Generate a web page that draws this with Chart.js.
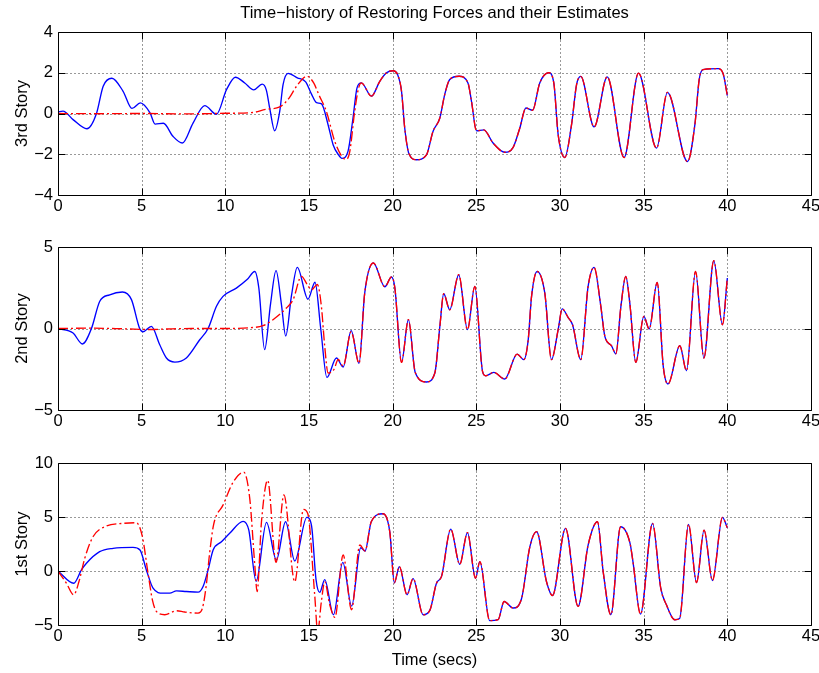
<!DOCTYPE html>
<html>
<head>
<meta charset="utf-8">
<script src="https://cdn.jsdelivr.net/npm/chart.js@4.4.1/dist/chart.umd.min.js"></script>
<style>
html,body{margin:0;padding:0;background:#fff;}
#wrap{position:relative;width:819px;height:673px;overflow:hidden;background:#fff;}
#wrap canvas{position:absolute;left:0;top:0;}
</style>
</head>
<body>
<div id="wrap">
<canvas id="c1" width="819" height="673"></canvas>
<canvas id="c2" width="819" height="673"></canvas>
<canvas id="c3" width="819" height="673"></canvas>
</div>
<script>
// ---------- tick labels ----------
const xTicks = [0, 5, 10, 15, 20, 25, 30, 35, 40, 45];
const yTicks3rd = [-4, -2, 0, 2, 4];
const yTicks2nd = [-5, 0, 5];
const yTicks1st = [-5, 0, 5, 10];

// ---------- 3rd story: actual restoring force ----------
const t3rd = [0, 0.3, 0.9, 1.73, 2.3, 2.7, 3.22, 3.89, 4.42, 4.92, 5.5, 5.8, 6.3, 6.87, 7.43, 8.07, 8.77, 9.47, 10.07, 10.6, 11.16, 11.7, 12.2, 12.45, 12.65, 12.95, 13.25, 13.45, 13.75, 14.3, 14.8, 15.15, 15.45, 15.75, 16.14, 16.44, 16.74, 16.97, 17.33, 17.63, 17.87, 18.13, 18.73, 19.23, 19.63, 20.03, 20.3, 20.53, 20.72, 20.98, 21.42, 22.02, 22.41, 22.82, 23.11, 23.41, 23.97, 24.5, 24.71, 25.01, 25.45, 26.0, 26.7, 27.2, 27.6, 27.96, 28.36, 28.79, 29.33, 29.63, 29.89, 30.29, 30.69, 30.99, 31.24, 32.04, 32.82, 33.83, 34.69, 35.77, 36.42, 37.62, 38.06, 38.32, 38.55, 39.45, 39.75, 40.0];
const f3rd = [0.08, 0.12, -0.3, -0.75, 0, 1.34, 1.73, 1.09, 0.25, 0.52, 0.03, -0.52, -0.48, -1.12, -1.45, -0.47, 0.39, -0.04, 1.17, 1.78, 1.5, 1.16, 1.44, 1.15, 0.27, -0.85, 0.1, 1.42, 1.97, 1.75, 1.55, 0.95, 0.53, 0.47, -0.55, -1.53, -2.0, -2.2, -1.86, -0.22, 1.26, 1.5, 0.85, 1.58, 2.0, 2.1, 1.9, 1.09, -0.71, -1.99, -2.27, -2.03, -0.88, -0.22, 0.93, 1.67, 1.83, 1.5, 0.6, -0.85, -0.8, -1.45, -1.9, -1.66, -0.71, 0.27, 0.16, 1.5, 2.0, 1.5, -1.04, -2.16, -0.55, 1.42, 1.82, -0.66, 1.8, -2.16, 1.98, -1.7, 1.04, -2.36, -0.55, 1.67, 2.15, 2.2, 1.95, 0.88];
// 3rd story: estimate before it locks on to the actual force
const tEst3rd = [0, 2.5, 5, 7.5, 10, 11.66, 12.4, 13.25, 13.82, 14.25, 14.88, 15.28, 15.6, 16.04, 16.54, 17.04, 17.23, 17.43, 17.73, 17.95];
const fEst3rd = [0, -0.01, 0, -0.02, 0.01, 0.05, 0.2, 0.32, 0.77, 1.33, 1.83, 1.5, 0.9, 0.1, -1.37, -2.19, -2.25, -1.9, 0.1, 1.2];
const lock3rd = 18.0;

// ---------- 2nd story ----------
const t2nd = [0, 0.9, 1.46, 2.0, 2.49, 3.09, 3.85, 4.39, 4.88, 5.08, 5.58, 6.08, 6.48, 6.98, 7.67, 8.47, 8.97, 9.47, 9.86, 10.66, 11.3, 11.76, 12.0, 12.35, 12.7, 13.03, 13.35, 13.61, 13.95, 14.3, 14.94, 15.36, 15.7, 16.07, 16.64, 17.04, 17.52, 17.99, 18.33, 18.85, 19.53, 19.93, 20.13, 20.53, 20.94, 21.35, 22.02, 22.52, 22.82, 23.05, 23.41, 23.95, 24.47, 24.91, 25.37, 25.56, 26.04, 26.7, 27.44, 27.84, 28.1, 28.3, 28.63, 29.09, 29.49, 29.89, 30.13, 30.49, 30.75, 31.24, 31.68, 32.04, 32.44, 32.68, 33.08, 33.34, 33.64, 33.93, 34.17, 34.53, 35.01, 35.33, 35.81, 36.17, 36.46, 37.16, 37.56, 38.1, 38.6, 39.19, 39.71, 40.0];
const f2nd = [0, -0.28, -0.95, 0, 1.66, 2.07, 2.24, 1.77, 0, -0.2, 0.13, -1.0, -1.81, -2.06, -1.81, -0.69, 0, 1.36, 1.97, 2.48, 3.0, 3.5, 2.5, -1.3, 1.5, 3.55, 1.5, -0.46, 2.0, 3.75, 1.8, 2.84, 0.0, -3.0, -1.81, -2.36, -0.13, -2.14, 2.18, 4.02, 2.56, 3.16, 2.5, -2.08, 0.54, -2.7, -3.28, -2.73, 0.13, 2.13, 1.15, 3.3, -0.07, 2.58, -2.63, -2.9, -2.69, -3.1, -1.57, -1.91, -0.7, 1.97, 3.5, 2.18, -1.91, -0.07, 1.2, 0.67, 0.23, -1.91, 2.58, 3.75, 1.36, -0.48, -1.06, -1.55, 1.36, 3.2, 1.57, -2.08, 0.74, -0.03, 2.83, -2.32, -3.4, -1.06, -2.59, 3.5, -1.81, 4.16, 0.23, 3.1];
const tEst2nd = [0, 2, 4, 5.5, 6.5, 8, 10, 11.5, 12.25, 12.85, 13.65, 14.05, 14.55, 14.9, 15.15, 15.5, 15.74, 15.94, 16.14, 16.5, 16.74, 17.04, 17.52, 17.99];
const fEst2nd = [0, 0.02, -0.02, -0.06, -0.03, 0, 0, 0.05, 0.17, 0.54, 1.26, 1.77, 3.2, 2.69, 2.38, 2.7, 1.36, -1.1, -2.73, -2.5, -1.9, -2.3, -0.2, -2.14];
const lock2nd = 18.1;

// ---------- 1st story ----------
const t1st = [0, 0.94, 1.4, 1.7, 2.49, 3.29, 4.48, 4.9, 5.28, 5.68, 6.28, 6.68, 7.08, 7.67, 8.37, 8.67, 8.97, 9.27, 9.77, 10.26, 11.06, 11.4, 11.84, 12.46, 13.05, 13.6, 14.15, 14.87, 15.15, 15.42, 15.64, 15.94, 16.46, 17.02, 17.55, 18.09, 18.35, 18.72, 19.43, 19.83, 20.1, 20.4, 20.86, 21.22, 21.82, 22.22, 22.62, 22.92, 23.47, 24.01, 24.47, 24.95, 25.21, 25.8, 26.3, 26.66, 27.2, 27.7, 28.2, 28.6, 29.19, 29.55, 30.33, 31.08, 31.68, 32.24, 32.58, 33.04, 33.62, 34.18, 34.36, 34.81, 35.53, 36.02, 36.36, 36.86, 37.15, 37.68, 38.16, 38.61, 39.11, 39.71, 40.0];
const f1st = [0, -1.13, 0.1, 0.72, 1.79, 2.1, 2.19, 1.95, 0.1, -1.59, -2.05, -2.05, -1.84, -1.9, -1.96, -1.44, 0.1, 1.95, 2.71, 3.49, 4.6, 3.8, -0.95, 4.5, 1.02, 4.56, 0.93, 4.96, 4.2, -0.8, -1.98, -0.8, -4.05, 0.8, -3.25, 2.15, 1.85, 4.56, 5.3, 3.6, -1.1, 0.41, -2.2, -0.7, -4.05, -3.65, -1.13, -0.5, 3.88, 0.62, 3.55, -0.67, 0.87, -4.6, -4.51, -2.82, -3.43, -2.57, 2.25, 3.64, -0.97, -2.27, 3.95, -3.28, 2.4, 4.56, -0.05, -4.05, 4.1, 2.6, 0.87, -3.99, 4.41, -1.59, -3.13, -4.51, -4.4, 4.32, -1.07, 3.79, -0.88, 4.96, 4.0];
const tEst1st = [0, 0.5, 0.94, 1.25, 1.6, 2.09, 2.89, 3.9, 4.68, 5.04, 5.38, 5.64, 5.88, 6.38, 7.08, 7.57, 8.37, 8.62, 8.87, 9.05, 9.3, 9.86, 10.46, 11.1, 11.46, 11.76, 11.9, 12.16, 12.53, 13.03, 13.5, 14.15, 14.67, 14.93, 15.34, 15.52, 15.74, 15.94, 16.24, 16.55, 17.04, 17.54, 18.04];
const fEst1st = [0, -1.13, -2.2, -1.0, 1.18, 3.17, 4.16, 4.41, 4.47, 3.2, -0.2, -2.67, -3.74, -4.05, -3.68, -3.8, -3.9, -3.5, -1.2, 1.5, 4.3, 6.1, 8.2, 9.15, 6.7, 0.56, -1.9, 4.56, 8.4, 0.8, 7.05, -1.0, 5.7, 5.3, -2.2, -5.6, -2.82, -1.0, -3.13, -4.3, 1.48, -3.59, 2.41];
const lock1st = 18.2;

const titleText = 'Time\u2212history of Restoring Forces and their Estimates';
const xTitle = 'Time (secs)';

// ---------- helpers ----------
const FONT = '"Liberation Sans", Arial, Helvetica, sans-serif';
Chart.defaults.font.family = FONT;
Chart.defaults.font.size = 16.5;
Chart.defaults.color = '#000';

function pts(ts, vs) { return ts.map((t, i) => ({ x: t, y: vs[i] })); }
function estimate(tE, fE, lock, tA, fA) {
  const tail = tA.map((t, i) => ({ x: t, y: fA[i] })).filter(p => p.x > lock);
  return pts(tE, fE).concat(tail);
}
const fmt = v => (v < 0 ? '\u2212' + Math.abs(v) : String(v));

const matlabAxes = {
  id: 'matlabAxes',
  beforeDatasetsDraw(chart) {
    const { ctx, chartArea: a, scales: { x, y } } = chart;
    const L = Math.round(a.left) + 0.5, R = Math.round(a.right) + 0.5;
    const T = Math.round(a.top) + 0.5, B = Math.round(a.bottom) + 0.5;
    ctx.save();
    ctx.strokeStyle = 'rgba(0,0,0,0.8)';
    ctx.lineWidth = 1;
    ctx.setLineDash([1, 3]);
    ctx.beginPath();
    x.ticks.forEach(t => {
      if (t.value > x.min && t.value < x.max) {
        const p = Math.round(x.getPixelForValue(t.value)) + 0.5;
        ctx.moveTo(p, T); ctx.lineTo(p, B);
      }
    });
    y.ticks.forEach(t => {
      if (t.value > y.min && t.value < y.max) {
        const p = Math.round(y.getPixelForValue(t.value)) + 0.5;
        ctx.moveTo(L, p); ctx.lineTo(R, p);
      }
    });
    ctx.stroke();
    ctx.restore();
  },
  afterDatasetsDraw(chart) {
    const { ctx, chartArea: a, scales: { x, y } } = chart;
    const L = Math.round(a.left) + 0.5, R = Math.round(a.right) + 0.5;
    const T = Math.round(a.top) + 0.5, B = Math.round(a.bottom) + 0.5;
    const len = 7;
    ctx.save();
    ctx.strokeStyle = '#000';
    ctx.lineWidth = 1;
    ctx.setLineDash([]);
    ctx.beginPath();
    ctx.rect(L, T, R - L, B - T);
    x.ticks.forEach(t => {
      const p = Math.round(x.getPixelForValue(t.value)) + 0.5;
      ctx.moveTo(p, B); ctx.lineTo(p, B - len);
      ctx.moveTo(p, T); ctx.lineTo(p, T + len);
    });
    y.ticks.forEach(t => {
      const p = Math.round(y.getPixelForValue(t.value)) + 0.5;
      ctx.moveTo(L, p); ctx.lineTo(L + len, p);
      ctx.moveTo(R, p); ctx.lineTo(R - len, p);
    });
    ctx.stroke();
    ctx.restore();
  }
};

function makeChart(id, o) {
  const xScale = {
    type: 'linear', min: 0, max: 45,
    afterBuildTicks: s => { s.ticks = xTicks.map(v => ({ value: v })); },
    ticks: { padding: 2, autoSkip: false, maxRotation: 0, minRotation: 0, callback: fmt },
    grid: { display: false, drawTicks: false },
    border: { display: false },
    afterFit: s => { s.height = o.xHeight; s.paddingLeft = 0; s.paddingRight = 0; },
    title: o.xTitle ? { display: true, text: o.xTitle, padding: { top: 0, bottom: 3 }, font: { size: 16.5 } } : { display: false }
  };
  const yScale = {
    type: 'linear', min: o.yTicks[0], max: o.yTicks[o.yTicks.length - 1],
    afterBuildTicks: s => { s.ticks = o.yTicks.map(v => ({ value: v })); },
    ticks: { padding: 5, autoSkip: false, callback: fmt },
    grid: { display: false, drawTicks: false },
    border: { display: false },
    afterFit: s => { s.width = 58; s.paddingTop = 0; s.paddingBottom = 0; },
    title: { display: true, text: o.yTitle, padding: { top: 13, bottom: 0 }, font: { size: 16.5 } }
  };
  return new Chart(document.getElementById(id), {
    type: 'line',
    data: {
      datasets: [
        { label: 'Estimate', data: o.est, borderColor: '#ff0000', borderWidth: 1.35,
          borderDash: [10, 3, 2, 3], pointRadius: 0, fill: false,
          cubicInterpolationMode: 'monotone', order: 0 },
        { label: 'Actual', data: o.act, borderColor: '#0000ff', borderWidth: 1.35,
          pointRadius: 0, fill: false, cubicInterpolationMode: 'monotone', order: 1 }
      ]
    },
    options: {
      responsive: false, animation: false, devicePixelRatio: 1,
      events: [],
      layout: { padding: o.padding },
      scales: { x: xScale, y: yScale },
      plugins: {
        legend: { display: false },
        tooltip: { enabled: false },
        title: o.title ? { display: true, text: o.title, fullSize: false, align: 'center',
          padding: { top: 4, bottom: 8.2 }, font: { size: 16.5, weight: 'normal' }, color: '#000' } : { display: false }
      }
    },
    plugins: [matlabAxes]
  });
}

makeChart('c1', {
  yTicks: yTicks3rd, yTitle: '3rd Story', title: titleText, xHeight: 20,
  padding: { top: 0, left: 0, right: 8, bottom: 673 - 195 - 20 },
  act: pts(t3rd, f3rd), est: estimate(tEst3rd, fEst3rd, lock3rd, t3rd, f3rd)
});
makeChart('c2', {
  yTicks: yTicks2nd, yTitle: '2nd Story', xHeight: 20,
  padding: { top: 247, left: 0, right: 8, bottom: 673 - 410 - 20 },
  act: pts(t2nd, f2nd), est: estimate(tEst2nd, fEst2nd, lock2nd, t2nd, f2nd)
});
makeChart('c3', {
  yTicks: yTicks1st, yTitle: '1st Story', xTitle: xTitle, xHeight: 48,
  padding: { top: 463, left: 0, right: 8, bottom: 0 },
  act: pts(t1st, f1st), est: estimate(tEst1st, fEst1st, lock1st, t1st, f1st)
});
</script>
</body>
</html>
